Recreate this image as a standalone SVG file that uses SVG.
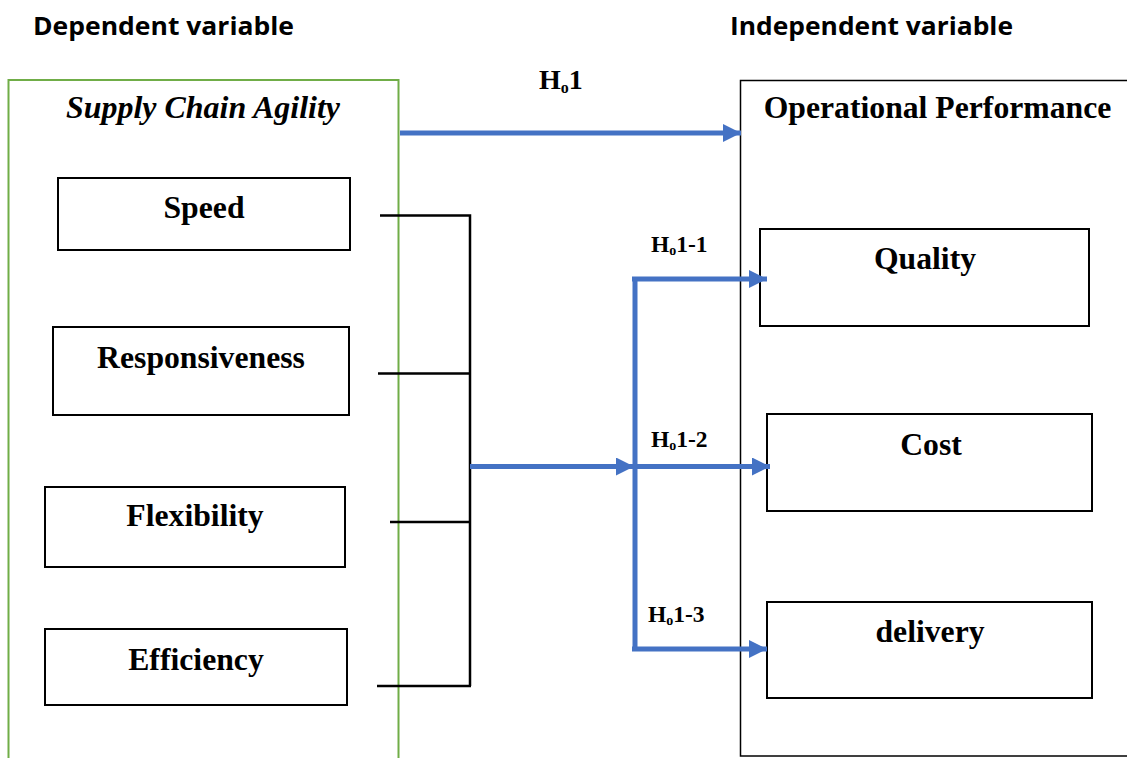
<svg xmlns="http://www.w3.org/2000/svg" width="1127" height="758" viewBox="0 0 1127 758">
<style>
.hdr{font-family:"Open Sans","Liberation Sans",sans-serif;font-weight:bold;font-size:25px;fill:#000}
.t{font-family:"Liberation Serif","Times New Roman",serif;font-weight:bold;font-size:31.7px;fill:#000;text-anchor:middle}
.lbl{font-family:"Liberation Serif","Times New Roman",serif;font-weight:bold;fill:#000}
.box{fill:#fff;stroke:#000;stroke-width:2}
.blk{stroke:#000;stroke-width:2.5;fill:none}
.blue{stroke:#4472C4;stroke-width:5;fill:none}
</style>
<defs>
<marker id="ah" markerUnits="userSpaceOnUse" markerWidth="18" markerHeight="18" viewBox="0 0 17 17" refX="17" refY="8.5" orient="auto">
<path d="M0,0 L17,8.5 L0,17 Z" fill="#4472C4"/>
</marker>
</defs>
<rect width="1127" height="758" fill="#fff"/>
<text class="hdr" x="33" y="35" textLength="261" lengthAdjust="spacingAndGlyphs">Dependent variable</text>
<text class="hdr" x="730" y="35" textLength="283" lengthAdjust="spacingAndGlyphs">Independent variable</text>

<g id="supply-chain-agility">
<rect x="8.5" y="80" width="390" height="700" fill="none" stroke="#70AD47" stroke-width="2"/>
<text class="t" x="203" y="118" font-style="italic" textLength="274" lengthAdjust="spacingAndGlyphs">Supply Chain Agility</text>
</g>
<g id="operational-performance">
<rect x="740.5" y="80.5" width="400" height="675.5" fill="none" stroke="#000" stroke-width="1.5"/>
<text class="t" x="937.5" y="118">Operational Performance</text>
</g>

<g id="speed"><rect class="box" x="58" y="178" width="292" height="72"/><text class="t" x="204" y="218">Speed</text></g>
<g id="responsiveness"><rect class="box" x="53" y="327" width="296" height="88"/><text class="t" x="201" y="368">Responsiveness</text></g>
<g id="flexibility"><rect class="box" x="45" y="487" width="300" height="80"/><text class="t" x="195" y="526">Flexibility</text></g>
<g id="efficiency"><rect class="box" x="45" y="629" width="302" height="76"/><text class="t" x="196" y="670">Efficiency</text></g>

<g id="quality"><rect class="box" x="760" y="229" width="329" height="97"/><text class="t" x="925" y="269">Quality</text></g>
<g id="cost"><rect class="box" x="767" y="414" width="325" height="97"/><text class="t" x="931" y="455">Cost</text></g>
<g id="delivery"><rect class="box" x="767" y="602" width="325" height="96"/><text class="t" x="930" y="642">delivery</text></g>

<g id="connectors">
<path class="blk" d="M380,215.5 H470 V686 M378,373.5 H470 M390,522 H470 M377,686 H471"/>
<line class="blue" x1="400" y1="133" x2="741" y2="133" marker-end="url(#ah)"/>
<line class="blue" x1="470" y1="466.5" x2="634" y2="466.5" marker-end="url(#ah)"/>
<path class="blue" d="M635,279 V649"/>
<line class="blue" x1="632" y1="279" x2="767" y2="279" marker-end="url(#ah)"/>
<line class="blue" x1="635" y1="466.5" x2="770" y2="466.5" marker-end="url(#ah)"/>
<line class="blue" x1="632" y1="649" x2="767" y2="649" marker-end="url(#ah)"/>
</g>

<g id="labels">
<text class="lbl" x="539" y="89" font-size="28">H<tspan font-size="16" dy="4">o</tspan><tspan dy="-4">1</tspan></text>
<text class="lbl" x="651" y="252" font-size="23.5">H<tspan font-size="14" dy="3">o</tspan><tspan dy="-3">1-1</tspan></text>
<text class="lbl" x="651" y="447" font-size="23.5">H<tspan font-size="14" dy="3">o</tspan><tspan dy="-3">1-2</tspan></text>
<text class="lbl" x="648" y="622" font-size="23.5">H<tspan font-size="14" dy="3">o</tspan><tspan dy="-3">1-3</tspan></text>
</g>
</svg>
